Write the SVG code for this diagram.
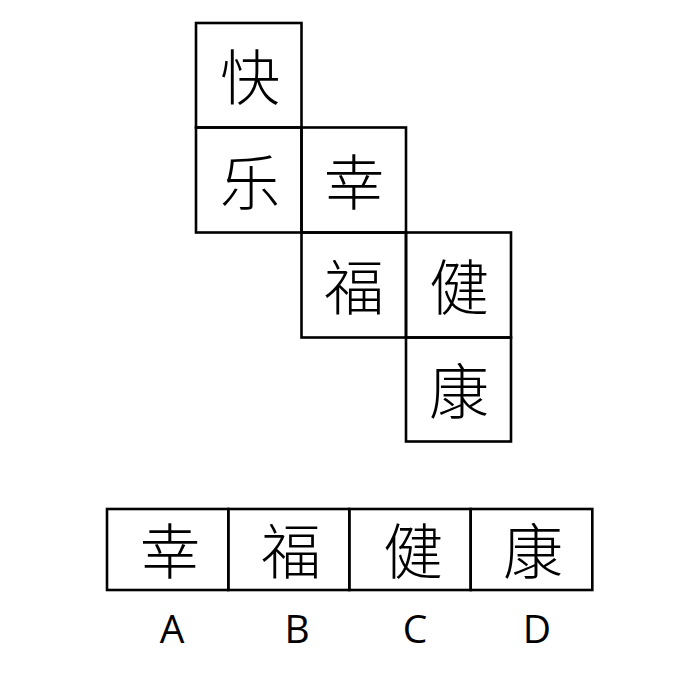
<svg xmlns="http://www.w3.org/2000/svg" width="679" height="677" viewBox="0 0 679 677">
<style>
.box{fill:none;stroke:#000;stroke-width:2.6;stroke-linejoin:miter}
.cjk{font-family:"Noto Sans CJK SC","Noto Sans CJK JP",sans-serif;font-size:60px;font-weight:300;text-anchor:middle;dominant-baseline:central;fill:#000}
.lab{font-family:"Open Sans","Liberation Sans",sans-serif;font-size:39px;text-anchor:middle;fill:#000}
</style>
<rect width="679" height="677" fill="#fff"/>
<g id="net">
<g id="n-kuai"><rect class="box" x="196" y="23" width="105.5" height="104.5"/><text class="cjk" x="250" y="73">快</text></g>
<g id="n-le"><rect class="box" x="196" y="127.5" width="105.5" height="105"/><text class="cjk" x="250" y="178">乐</text></g>
<g id="n-xing"><rect class="box" x="301.5" y="127.5" width="104.5" height="105"/><text class="cjk" x="354" y="178">幸</text></g>
<g id="n-fu"><rect class="box" x="301.5" y="232.5" width="104.5" height="105"/><text class="cjk" x="354" y="283">福</text></g>
<g id="n-jian"><rect class="box" x="406" y="232.5" width="105" height="105"/><text class="cjk" x="459" y="283">健</text></g>
<g id="n-kang"><rect class="box" x="406" y="337.5" width="105" height="104"/><text class="cjk" x="459" y="387">康</text></g>
</g>
<g id="options">
<g id="opt-a"><rect class="box" x="107" y="509" width="121.3" height="81"/><text class="cjk" x="170" y="547">幸</text><text class="lab" x="172" y="643">A</text></g>
<g id="opt-b"><rect class="box" x="228.3" y="509" width="121" height="81"/><text class="cjk" x="291" y="547">福</text><text class="lab" x="297" y="643">B</text></g>
<g id="opt-c"><rect class="box" x="349.3" y="509" width="121.4" height="81"/><text class="cjk" x="413" y="547">健</text><text class="lab" x="415" y="643">C</text></g>
<g id="opt-d"><rect class="box" x="470.7" y="509" width="121.6" height="81"/><text class="cjk" x="533" y="547">康</text><text class="lab" x="537" y="643">D</text></g>
</g>
<g id="connectors"/>
</svg>
